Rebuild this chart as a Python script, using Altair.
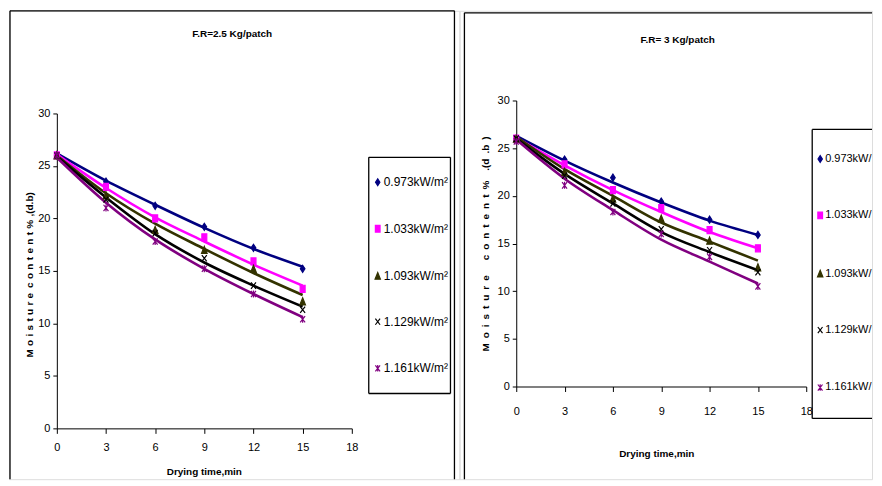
import altair as alt
import pandas as pd

# ---------------- data ----------------
times = [0, 3, 6, 9, 12, 15]
x_ticks = [0, 3, 6, 9, 12, 15, 18]
y_ticks = [0, 5, 10, 15, 20, 25, 30]
series = ["0.973kW/m²", "1.033kW/m²", "1.093kW/m²", "1.129kW/m²", "1.161kW/m²"]

# F.R = 2.5 Kg/patch : measured points
left_0973 = [26.0, 23.5, 21.2, 19.2, 17.2, 15.2]
left_1033 = [26.0, 23.0, 20.0, 18.2, 15.9, 13.3]
left_1093 = [26.0, 22.2, 18.9, 17.0, 15.2, 12.1]
left_1129 = [26.0, 21.8, 18.6, 16.2, 13.6, 11.3]
left_1161 = [26.0, 21.0, 17.8, 15.2, 12.8, 10.4]
# F.R = 2.5 Kg/patch : trend lines
left_fit_0973 = [26.2, 23.6, 21.3, 19.1, 17.1, 15.4]
left_fit_1033 = [26.1, 22.9, 20.1, 17.8, 15.6, 13.6]
left_fit_1093 = [26.0, 22.4, 19.5, 17.1, 14.8, 12.7]
left_fit_1129 = [25.9, 22.0, 18.5, 15.8, 13.6, 11.6]
left_fit_1161 = [25.8, 21.5, 18.0, 15.2, 12.8, 10.6]

# F.R = 3 Kg/patch : measured points
right_0973 = [26.0, 23.8, 21.9, 19.4, 17.5, 15.9]
right_1033 = [26.0, 23.3, 20.6, 18.7, 16.4, 14.5]
right_1093 = [26.0, 22.5, 19.7, 17.6, 15.3, 12.5]
right_1129 = [26.0, 22.1, 19.2, 16.5, 14.3, 12.0]
right_1161 = [25.7, 21.1, 18.3, 16.0, 13.6, 10.5]
# F.R = 3 Kg/patch : trend lines
right_fit_0973 = [26.3, 23.7, 21.4, 19.3, 17.4, 15.9]
right_fit_1033 = [26.1, 23.2, 20.6, 18.3, 16.2, 14.5]
right_fit_1093 = [26.2, 22.8, 20.0, 17.2, 15.2, 13.2]
right_fit_1129 = [26.0, 22.3, 19.2, 16.2, 14.1, 12.2]
right_fit_1161 = [25.9, 21.8, 18.5, 15.4, 13.1, 10.8]

title_left = "F.R=2.5 Kg/patch"
title_right = "F.R= 3 Kg/patch"
xtitle = "Drying time,min"
# letter-spaced axis titles, as in the original figure
ytitle_left = "\u2004".join("Moisture") + "\u2002" + "\u2004".join("content%") + "\u2004,(d.b)"
ytitle_right = "\u2002".join("Moisture") + "\u2002\u2002\u2002" + "\u2002".join("content%") + "\u2002\u2002.(d\u2002.b\u2002)"

colors = ["#000080", "#FF00FF", "#333300", "#000000", "#800080"]
shapes = [
    "M0,-1L0.65,0L0,1L-0.65,0Z",
    "M-0.7,-1L0.7,-1L0.7,1L-0.7,1Z",
    "M0,-1L0.8,1L-0.8,1Z",
    "M-0.7,-0.9L0.7,0.9M-0.7,0.9L0.7,-0.9",
    "M-0.7,-0.9L0.7,0.9M-0.7,0.9L0.7,-0.9M0,-1L0,1",
]

FONT = "Liberation Sans, Arial, sans-serif"
H = 470  # page is 882x486 with an 8px body margin on every side


def long_df(lists):
    rows = []
    for s, vals in zip(series, lists):
        for t, v in zip(times, vals):
            rows.append({"t": t, "mc": v, "series": s})
    return pd.DataFrame(rows)


def rule(x, y, x2=None, y2=None):
    enc = dict(x=alt.value(x), y=alt.value(y))
    if x2 is not None:
        enc["x2"] = alt.value(x2)
    if y2 is not None:
        enc["y2"] = alt.value(y2)
    return alt.Chart(pd.DataFrame({"a": [0]})).mark_rule(
        color="black", strokeWidth=1.3).encode(**enc)


def panel(pts, fit, g):
    W = g["W"]
    xs = alt.Scale(domain=[0, 18], range=[g["x0"], g["x1"]], nice=False, zero=False)
    ys = alt.Scale(domain=[0, 30], range=[g["y0"], g["y1"]], nice=False, zero=False)
    xa = alt.Axis(values=x_ticks, title=None, offset=g["y0"] - H, tickSize=5,
                  labelPadding=g["xlp"], labelFont=FONT, labelFontSize=11,
                  grid=False, domainColor="black", tickColor="black",
                  labelColor="black", labelFlush=False, labelOverlap=False)
    ya = alt.Axis(values=y_ticks, title=None, offset=-g["x0"], tickSize=4,
                  labelPadding=3, labelFont=FONT, labelFontSize=11,
                  grid=False, domainColor="black", tickColor="black",
                  labelColor="black", labelFlush=False, labelOverlap=False)
    X = alt.X("t:Q", scale=xs, axis=xa)
    Y = alt.Y("mc:Q", scale=ys, axis=ya)
    cs = alt.Scale(domain=series, range=colors)
    ss = alt.Scale(domain=series, range=shapes)

    lines = alt.Chart(long_df(fit)).mark_line(strokeWidth=2.6, interpolate="monotone").encode(
        x=X, y=Y,
        color=alt.Color("series:N", scale=cs, legend=None),
        detail="series:N",
    )
    points = alt.Chart(long_df(pts)).mark_point(size=50, strokeWidth=1.2, opacity=1).encode(
        x=X, y=Y,
        fill=alt.Fill("series:N", scale=cs, legend=None),
        stroke=alt.Stroke("series:N", scale=cs, legend=None),
        shape=alt.Shape("series:N", scale=ss, legend=None),
    )
    layers = list(g["frame"]) + [lines, points]
    # legend entries (one per series)
    for i, s in enumerate(series):
        d = pd.DataFrame({"s": [s]})
        layers.append(alt.Chart(d).mark_point(
            shape=shapes[i], fill=colors[i], stroke=colors[i], filled=True,
            size=45, strokeWidth=1.2, opacity=1
        ).encode(x=alt.value(g["lsx"]), y=alt.value(g["lys"][i])))
        layers.append(alt.Chart(d).mark_text(
            font=FONT, fontSize=g["lfs"], color="black", align="left", baseline="middle",
            limit=g["llim"], ellipsis="\u200b"
        ).encode(x=alt.value(g["ltx"]), y=alt.value(g["lys"][i]), text="s:N"))

    ttl = alt.Chart(pd.DataFrame({"s": [g["title"]]})).mark_text(
        font=FONT, fontSize=10, fontWeight="bold", color="black", baseline="middle", align="center"
    ).encode(x=alt.value(g["tx"]), y=alt.value(g["ty"]), text="s:N")
    xt = alt.Chart(pd.DataFrame({"s": [xtitle]})).mark_text(
        font=FONT, fontSize=10, fontWeight="bold", color="black", baseline="middle", align="center"
    ).encode(x=alt.value(g["xtx"]), y=alt.value(g["xty"]), text="s:N")
    yt = alt.Chart(pd.DataFrame({"s": [g["ytitle"]]})).mark_text(
        font=FONT, fontSize=10, fontWeight="bold", color="black", baseline="middle",
        align="center", angle=270
    ).encode(x=alt.value(g["ytx"]), y=alt.value(g["yty"]), text="s:N")
    layers += [ttl, xt, yt]

    return alt.layer(*layers).properties(width=W, height=H)


left_geom = dict(W=452, x0=48, x1=344, y0=419, y1=103, xlp=8,
                 frame=[rule(1, 0, x2=447), rule(1, 0, y2=H), rule(447, 0, y2=H),
                        rule(361, 147, x2=443), rule(361, 384, x2=443),
                        rule(361, 147, y2=384), rule(443, 147, y2=384)],
                 lsx=370, ltx=376, lys=[172, 218.7, 266, 312, 358.7], lfs=12, llim=200,
                 title=title_left, tx=224, ty=23, xtx=196, xty=463,
                 ytitle=ytitle_left, ytx=21, yty=265)
right_geom = dict(W=414, x0=57, x1=348, y0=377, y1=90, xlp=14,
                  frame=[rule(5, 2, x2=414), rule(5, 2, y2=H),
                         rule(354, 119, x2=414), rule(354, 409, x2=414),
                         rule(354, 119, y2=409)],
                  lsx=362, ltx=367, lys=[148.7, 205.3, 263.7, 320.3, 378], lfs=11, llim=47,
                  title=title_right, tx=219, ty=29, xtx=198, xty=445,
                  ytitle=ytitle_right, ytx=27, yty=234)

left = panel([left_0973, left_1033, left_1093, left_1129, left_1161],
             [left_fit_0973, left_fit_1033, left_fit_1093, left_fit_1129, left_fit_1161],
             left_geom)
right = panel([right_0973, right_1033, right_1093, right_1129, right_1161],
              [right_fit_0973, right_fit_1033, right_fit_1093, right_fit_1129, right_fit_1161],
              right_geom)

chart = alt.hconcat(left, right, spacing=0, bounds="flush").resolve_scale(
    x="independent", y="independent"
).properties(padding=0).configure_view(stroke=None).configure(background="white")

chart.save("out.html", embed_options={"renderer": "svg", "actions": False})
